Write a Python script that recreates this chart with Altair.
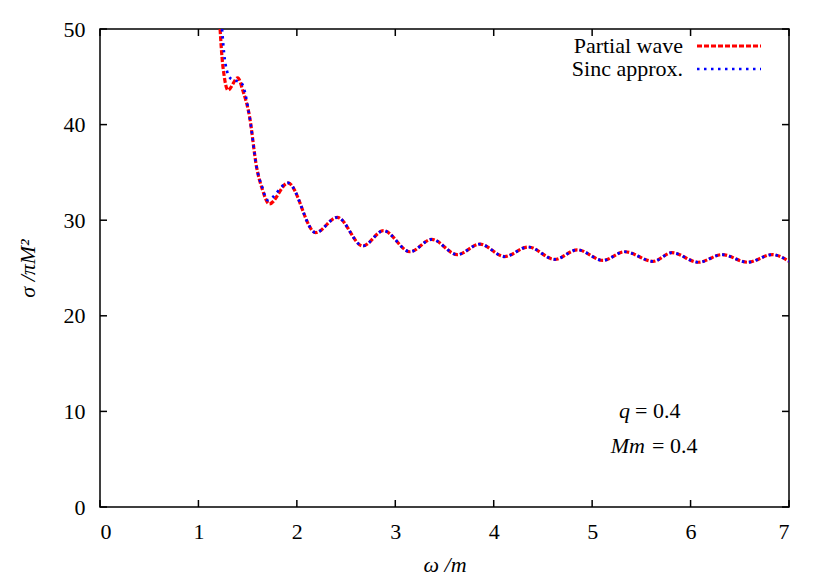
import altair as alt
import pandas as pd

# ---------------- data ----------------
series = ["Partial wave", "Sinc approx."]

red_head_x = [1.22, 1.24, 1.26, 1.30, 1.40, 1.45, 1.52, 1.59, 1.65, 1.72]
red_head_y = [50.0, 47.0, 45.2, 43.6, 44.9, 43.6, 40.8, 35.6, 33.2, 31.7]

blue_head_x = [1.24, 1.26, 1.29, 1.33, 1.38, 1.44, 1.52, 1.59, 1.65, 1.70]
blue_head_y = [50.0, 47.5, 45.6, 44.8, 44.6, 44.3, 40.8, 35.6, 33.4, 32.1]

tail_x = [1.91, 2.19, 2.41, 2.67, 2.88, 3.15, 3.37, 3.63, 3.86, 4.11, 4.35,
          4.62, 4.85, 5.11, 5.33, 5.62, 5.81, 6.08, 6.32, 6.58, 6.83, 7.00]
tail_y = [33.9, 28.7, 30.3, 27.3, 28.9, 26.7, 28.0, 26.4, 27.5, 26.2, 27.2,
          25.9, 26.9, 25.8, 26.7, 25.7, 26.6, 25.6, 26.4, 25.6, 26.4, 25.7]

x_ticks = [0, 1, 2, 3, 4, 5, 6, 7]
y_ticks = [0, 10, 20, 30, 40, 50]

# ---------------- build table ----------------
rows = []
for x, y in zip(red_head_x + tail_x, red_head_y + tail_y):
    rows.append({"w": x, "s": y, "series": series[0]})
for x, y in zip(blue_head_x + tail_x, blue_head_y + tail_y):
    rows.append({"w": x, "s": y, "series": series[1]})
df = pd.DataFrame(rows)

W, H = 689, 478
FONT = "Liberation Serif"
FS = 22
LW = 1.5

xscale = alt.Scale(domain=[0, 7], nice=False, zero=False)
yscale = alt.Scale(domain=[0, 50], nice=False, zero=False)
xaxis = alt.Axis(values=x_ticks, format="d", title="ω /m", labelPadding=14, titlePadding=12)
yaxis = alt.Axis(values=y_ticks, format="d", title="σ /πM²", labelPadding=15, titlePadding=24)

lines = alt.Chart(df).mark_line(clip=True, interpolate="monotone").encode(
    x=alt.X("w:Q", scale=xscale, axis=xaxis),
    y=alt.Y("s:Q", scale=yscale, axis=yaxis),
    color=alt.Color("series:N", scale=alt.Scale(domain=series, range=["#ff0000", "#0000ff"]), legend=None),
    strokeDash=alt.StrokeDash("series:N", scale=alt.Scale(domain=series, range=[[5, 2], [2.5, 4.5]]), legend=None),
    strokeWidth=alt.StrokeWidth("series:N", scale=alt.Scale(domain=series, range=[3.2, 2.7]), legend=None),
)

xt = pd.DataFrame({"w": x_ticks})
yt = pd.DataFrame({"s": y_ticks})
tick_len = 7
xb = alt.Chart(xt).mark_rule(color="black", strokeWidth=LW).encode(
    x=alt.X("w:Q", scale=xscale, axis=xaxis), y=alt.value(H), y2=alt.value(H - tick_len))
xtop = alt.Chart(xt).mark_rule(color="black", strokeWidth=LW).encode(
    x=alt.X("w:Q", scale=xscale, axis=xaxis), y=alt.value(0), y2=alt.value(tick_len))
yl = alt.Chart(yt).mark_rule(color="black", strokeWidth=LW).encode(
    y=alt.Y("s:Q", scale=yscale, axis=yaxis), x=alt.value(0), x2=alt.value(tick_len))
yr = alt.Chart(yt).mark_rule(color="black", strokeWidth=LW).encode(
    y=alt.Y("s:Q", scale=yscale, axis=yaxis), x=alt.value(W), x2=alt.value(W - tick_len))

# legend (manual, labels left of samples)
one = pd.DataFrame({"a": [0]})
leg_t1 = alt.Chart(one).mark_text(align="right", baseline="alphabetic", font=FONT, fontSize=FS,
                                  text=series[0]).encode(x=alt.value(583), y=alt.value(24))
leg_t2 = alt.Chart(one).mark_text(align="right", baseline="alphabetic", font=FONT, fontSize=FS,
                                  text=series[1]).encode(x=alt.value(583), y=alt.value(47))
leg_l1 = alt.Chart(one).mark_rule(color="#ff0000", strokeWidth=3.2, strokeDash=[5, 2]).encode(
    x=alt.value(597), x2=alt.value(661), y=alt.value(17))
leg_l2 = alt.Chart(one).mark_rule(color="#0000ff", strokeWidth=2.7, strokeDash=[2.5, 4.5]).encode(
    x=alt.value(597), x2=alt.value(661), y=alt.value(40))

# annotation
ann = []
for txt, xpos, ypos, style, al in [
    ("q", 530, 389, "italic", "right"),
    ("= 0.4", 535, 389, "normal", "left"),
    ("Mm", 545, 424, "italic", "right"),
    ("= 0.4", 552, 424, "normal", "left"),
]:
    ann.append(alt.Chart(one).mark_text(align=al, baseline="alphabetic", font=FONT, fontSize=FS,
                                        fontStyle=style, text=txt).encode(
        x=alt.value(xpos), y=alt.value(ypos)))

chart = alt.layer(lines, xb, xtop, yl, yr, leg_l1, leg_l2, leg_t1, leg_t2, *ann).properties(
    width=W, height=H,
    background="white",
    autosize=alt.AutoSizeParams(type="none"),
    padding={"left": 92, "top": 21, "right": 20, "bottom": 72},
).configure_view(stroke="black", strokeWidth=LW).configure_axis(
    domain=False, ticks=False, grid=False,
    labelFont=FONT, labelFontSize=FS, labelColor="black",
    titleFont=FONT, titleFontSize=FS, titleFontStyle="italic", titleFontWeight="normal",
    titleColor="black",
)

chart.save("out.html", embed_options={"renderer": "svg", "actions": False})
